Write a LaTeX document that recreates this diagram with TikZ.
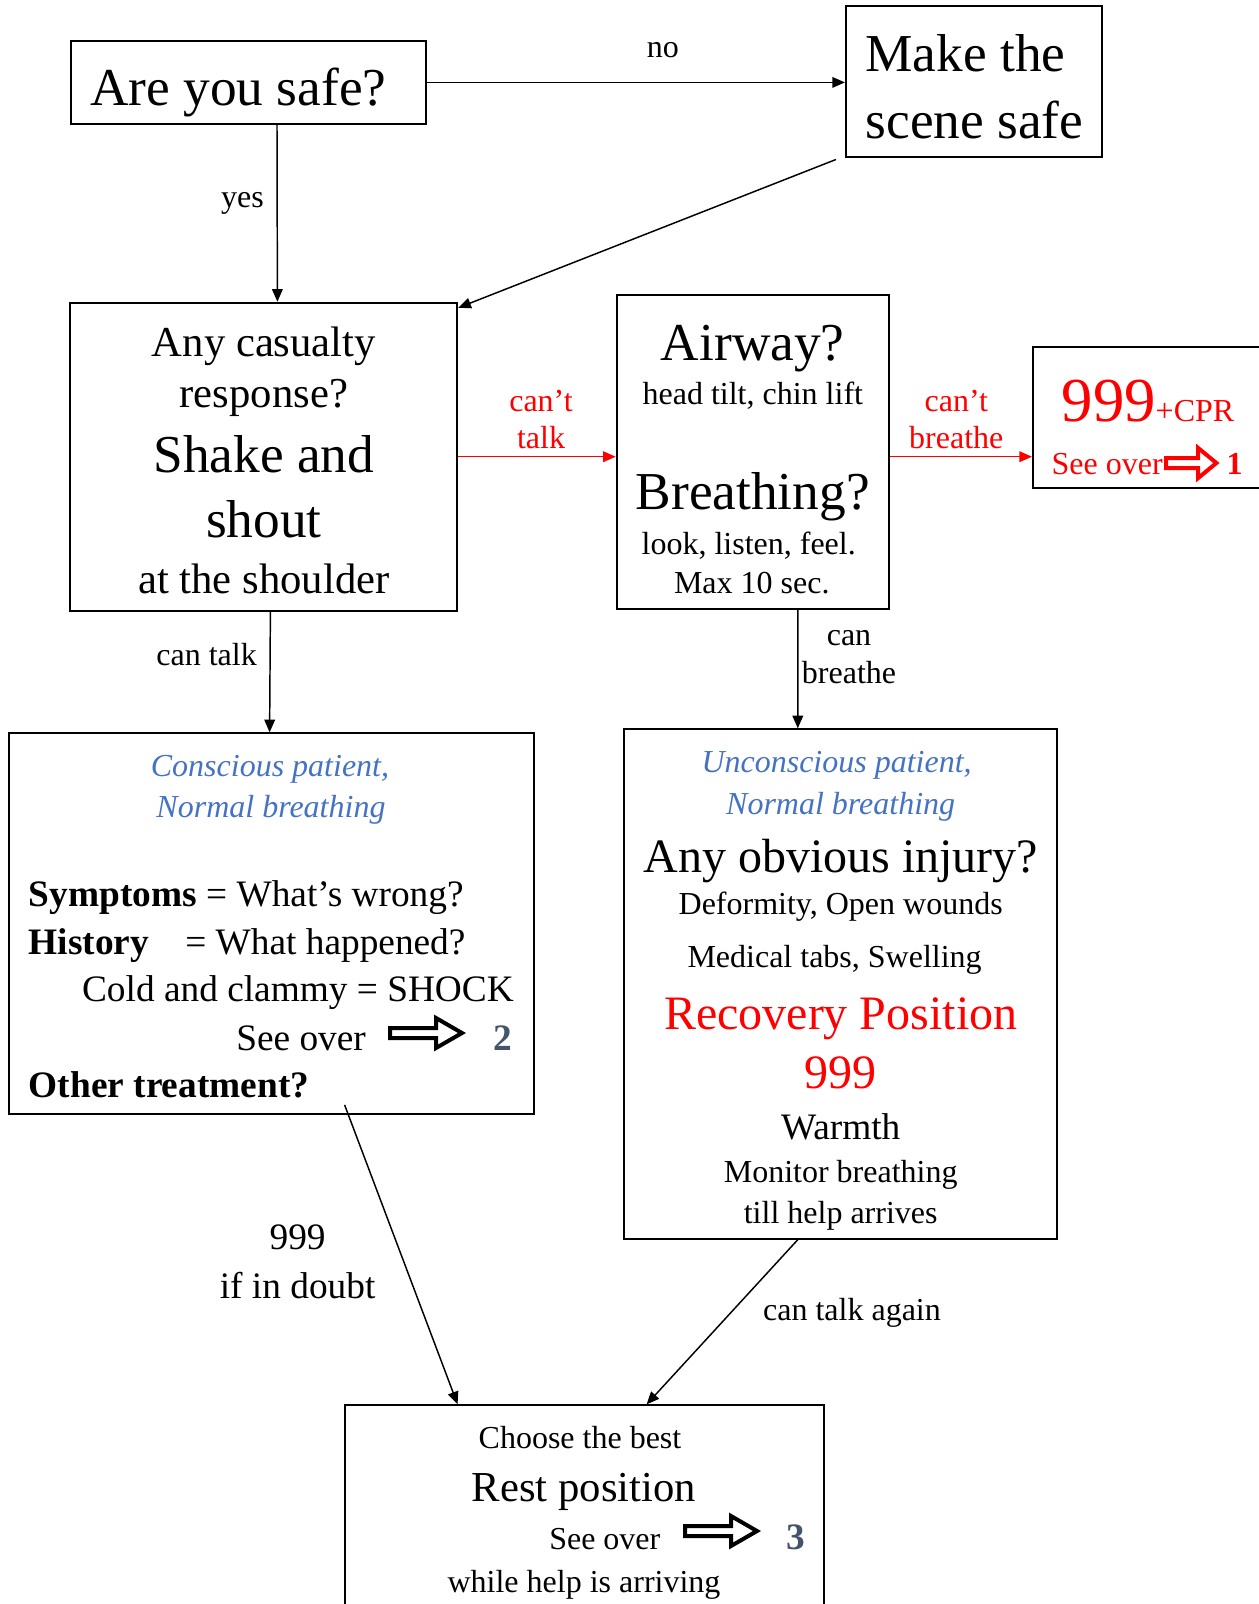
\documentclass[tikz,border=0pt]{standalone}
\usepackage{fontspec}
\setmainfont{Liberation Serif}
\usetikzlibrary{arrows.meta, calc}
\definecolor{fablue}{HTML}{4472C4}
\definecolor{faslate}{HTML}{44546A}
\definecolor{fared}{HTML}{FF0000}

\begin{document}
\begin{tikzpicture}[x=0.75pt, y=-0.75pt,
  box/.style={draw, line width=1.5pt, inner sep=0pt},
  txt/.style={inner sep=0pt},
  f24/.style={font=\fontsize{24pt}{28pt}\selectfont},
  f28/.style={font=\fontsize{28pt}{37pt}\selectfont},
  f32/.style={font=\fontsize{32pt}{38pt}\selectfont},
  f36/.style={font=\fontsize{36pt}{43pt}\selectfont},
  f40/.style={font=\fontsize{40pt}{48pt}\selectfont},
  blueit/.style={inner sep=0pt, text=fablue, font=\fontsize{24pt}{28pt}\selectfont\itshape},
  arr/.style={line width=1.1pt, -{Triangle[length=9.5pt, width=8pt]}},
  seeover/.pic={\draw[line width=3pt, fill=white, line join=miter]
    (0,-5) -- (46,-5) -- (46,-15) -- (72,0) -- (46,15) -- (46,5) -- (0,5) -- cycle;}]
\useasboundingbox (0,0) rectangle (1258,1604);

% boxes
\node[box, minimum width=266.25pt, minimum height=62.25pt] (safe) at (248,82.4) {};
\node[box, minimum width=191.8pt, minimum height=112.8pt] (scene) at (973.8,81.3) {};
\node[box, minimum width=290.8pt, minimum height=230.9pt] (casualty) at (263.4,456.7) {};
\node[box, minimum width=204.1pt, minimum height=235.5pt] (airway) at (752.8,451.6) {};
\node[box, minimum width=177.75pt, minimum height=105.75pt] (cpr) at (1151.5,417.5) {};
\node[box, minimum width=393.5pt, minimum height=285.4pt] (conscious) at (271.6,923.6) {};
\node[box, minimum width=324.5pt, minimum height=382pt] (unconscious) at (840.2,984) {};
\node[box, minimum width=359.8pt, minimum height=161pt] (rest) at (584.6,1512.7) {};

% top row
\node[txt, f40, anchor=base] (safeq) at (238.3,105.6) {Are you safe?};
\node[txt, f40, anchor=base west] (scenea) at (865.3,71.9) {Make the};
\node[txt, f40, anchor=base west] (sceneb) at (865.3,138.4) {scene safe};

% response box
\node[txt, f32, anchor=base] (casa) at (263.9,356.6) {Any casualty};
\node[txt, f32, anchor=base] (casb) at (263.9,407.8) {response?};
\node[txt, f40, anchor=base] (casc) at (263.9,472.8) {Shake and};
\node[txt, f40, anchor=base] (casd) at (263.9,537.3) {shout};
\node[txt, f32, anchor=base] (case) at (263.9,593.9) {at the shoulder};

% airway box
\node[txt, f40, anchor=base] (aira) at (752.8,360.3) {Airway?};
\node[txt, f24, anchor=base] (airb) at (752.8,404) {head tilt, chin lift};
\node[txt, f40, anchor=base] (airc) at (752.8,509.7) {Breathing?};
\node[txt, f24, anchor=base] (aird) at (748.7,554.2) {look, listen, feel.};
\node[txt, f24, anchor=base] (aire) at (751.8,593.2) {Max 10 sec.};

% 999 box
\node[txt, anchor=base, text=fared] (cpra) at (1148,421.7)
  {{\fontsize{47pt}{56pt}\selectfont 999}{\fontsize{24pt}{28pt}\selectfont +CPR}};
\node[txt, f24, anchor=base west, text=fared] (cprb) at (1051.4,474.5) {See over};
\pic[fared, xscale=0.7] at (1166,463) {seeover};
\node[txt, f24, anchor=base, text=fared] (cprc) at (1234.6,474.5) {\bfseries 1};

% conscious box
\node[blueit, anchor=base] (cona) at (270,776.2) {Conscious patient,};
\node[blueit, anchor=base] (conb) at (271,817.2) {Normal breathing};
\node[txt, f28, anchor=base west] (conc) at (28.6,906.1) {\textbf{Symptoms} = What’s wrong?};
\node[txt, f28, anchor=base west] (cond) at (28.6,954.1) {\textbf{History}};
\node[txt, f28, anchor=base west] (cone) at (185,954.1) {= What happened?};
\node[txt, f28, anchor=base west] (conf) at (81.8,1001.1) {Cold and clammy = SHOCK};
\node[txt, f28, anchor=base west] (cong) at (236,1050.1) {See over};
\pic at (390,1033) {seeover};
\node[txt, f28, anchor=base, text=faslate] (conh) at (503,1050.1) {\bfseries 2};
\node[txt, f28, anchor=base west] (coni) at (28.6,1097.1) {\bfseries Other treatment?};

% unconscious box
\node[blueit, anchor=base] (unca) at (836.6,772.2) {Unconscious patient,};
\node[blueit, anchor=base] (uncb) at (840.7,814.2) {Normal breathing};
\node[txt, f36, anchor=base] (uncc) at (840.7,872.8) {Any obvious injury?};
\node[txt, f24, anchor=base] (uncd) at (840.7,914.2) {Deformity, Open wounds};
\node[txt, f24, anchor=base] (unce) at (834.6,967.5) {Medical tabs, Swelling};
\node[txt, f36, anchor=base, text=fared] (uncf) at (840.7,1029.4) {Recovery Position};
\node[txt, f36, anchor=base, text=fared] (uncg) at (840.7,1088.7) {999};
\node[txt, f28, anchor=base] (unch) at (840.7,1139.1) {Warmth};
\node[txt, f24, anchor=base] (unci) at (840.7,1182.2) {Monitor breathing};
\node[txt, f24, anchor=base] (uncj) at (840.7,1223.2) {till help arrives};

% rest box
\node[txt, f24, anchor=base] (resa) at (580,1448.2) {Choose the best};
\node[txt, f32, anchor=base] (resb) at (584,1501) {Rest position};
\node[txt, f24, anchor=base west] (resc) at (549,1549.2) {See over};
\pic at (685,1531) {seeover};
\node[txt, f28, anchor=base, text=faslate] (resd) at (796,1549.2) {\bfseries 3};
\node[txt, f24, anchor=base] (rese) at (584,1592.2) {while help is arriving};

% connectors
\draw[arr] (safe.east) -- (safe.east -| scene.west);
\node[txt, f24, anchor=base] (lno) at (662.8,57.2) {no};
\draw[arr] ($(safe.south)+(29,0)$) -- ($(casualty.north)+(14,0)$);
\node[txt, f24, anchor=base] (lyes) at (242.4,207.6) {yes};
\draw[arr] ($(scene.south west)+(-9,2)$) -- ($(casualty.north east)+(0,6)$);
\draw[arr, fared] (casualty.east) -- (casualty.east -| airway.west);
\node[txt, f24, align=center, text=fared] (ltalk) at (541,419.5) {can’t\\talk};
\draw[arr, fared] (casualty.east -| airway.east) -- (casualty.east -| cpr.west);
\node[txt, f24, align=center, text=fared] (lbreathe) at (956.3,419.5) {can’t\\breathe};
\draw[arr] ($(casualty.south)+(7,0)$) -- ($(conscious.north)+(-2,0)$);
\node[txt, f24, anchor=base] (lcantalk) at (206.6,665.8) {can talk};
\draw[arr] ($(airway.south)+(45,0)$) -- ($(unconscious.north)+(-42.4,0)$);
\node[txt, f24, align=center] (lcanbreathe) at (849,657) {can\\breathe};
\draw[arr] ($(conscious.south)+(73,-10)$) -- ($(rest.north)+(-127,0)$);
\node[txt, f28, align=center] (ldoubt) at (297.6,1262) {999\\if in doubt};
\draw[arr] ($(unconscious.south)+(-42.4,0)$) -- ($(rest.north)+(62,0)$);
\node[txt, f24, anchor=base] (lagain) at (852,1320.2) {can talk again};
\end{tikzpicture}
\end{document}
